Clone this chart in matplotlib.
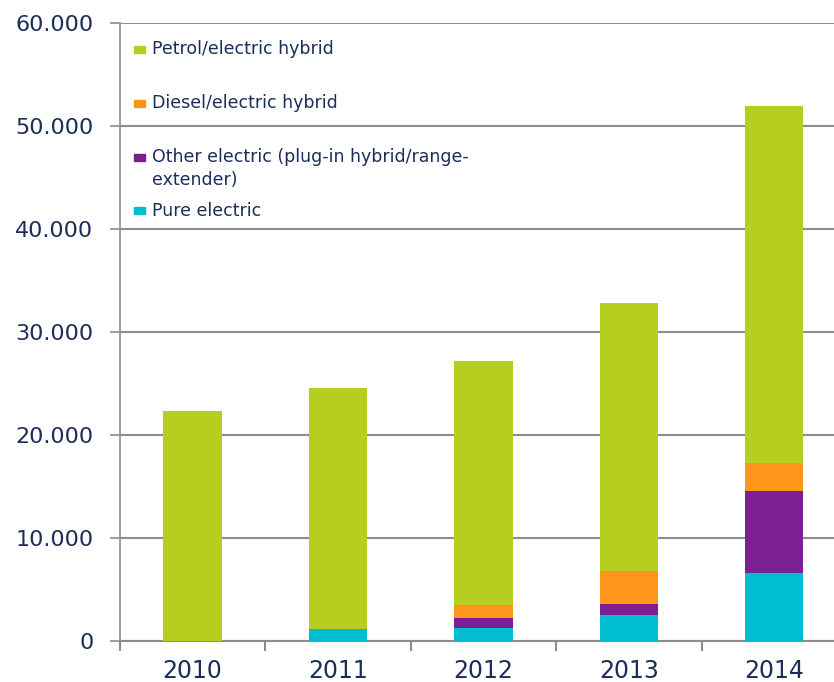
import matplotlib
matplotlib.use("Agg")
import matplotlib.pyplot as plt
from matplotlib.patches import Rectangle
import numpy as np

years = ["2010", "2011", "2012", "2013", "2014"]
pure_electric = [0, 1170, 1270, 2530, 6620]
other_electric = [0, 0, 970, 1070, 7980]
diesel_hybrid = [0, 0, 1260, 3150, 2660]
petrol_hybrid = [22300, 23370, 23670, 26050, 34640]

series_names = ["Pure electric",
                "Other electric (plug-in hybrid/range-\nextender)",
                "Diesel/electric hybrid",
                "Petrol/electric hybrid"]
colors = ["#00BDD0", "#7B2093", "#FF961C", "#B5CE1F"]
yticks = [0, 10000, 20000, 30000, 40000, 50000, 60000]
ytick_labels = ["0", "10.000", "20.000", "30.000", "40.000", "50.000", "60.000"]

txt = "#1c2d5a"
grid = "#8c8c8c"
plt.rcParams['font.family'] = ['DejaVu Sans']

W, H = 834, 682
fig = plt.figure(figsize=(W / 100, H / 100), dpi=100)
ax = fig.add_axes([119.8 / W, 1 - 641 / H, 1 - 119.8 / W, (641 - 23) / H])

x = np.arange(len(years))
bottom = np.zeros(len(years))
data = [pure_electric, other_electric, diesel_hybrid, petrol_hybrid]
for vals, c in zip(data, colors):
    ax.bar(x, vals, width=0.40, bottom=bottom, color=c, zorder=3)
    bottom += np.array(vals)

ax.set_yticks(yticks)
ax.set_yticklabels(ytick_labels, fontsize=16, color=txt)
ax.yaxis.grid(True, color=grid, linewidth=1.5, zorder=0)

ax.set_xticks(np.arange(-0.5, 5, 1.0))
ax.set_xticklabels([])
ax.set_xticks(x, minor=True)
ax.set_xticklabels(years, minor=True, fontsize=17, color=txt)
ax.tick_params(axis='x', which='major', length=7, width=1.5, color=grid, direction='out')
ax.tick_params(axis='x', which='minor', length=0, pad=13)
ax.tick_params(axis='y', length=7, width=1.2, color=grid, direction='out', pad=12)

ax.set_ylim(0, 60000)
ax.set_xlim(-0.5, 4.41)

for s in ["top", "right"]:
    ax.spines[s].set_visible(False)
ax.spines["left"].set_color(grid)
ax.spines["left"].set_linewidth(1.2)
ax.spines["bottom"].set_color(grid)
ax.spines["bottom"].set_linewidth(1.5)

# legend (manual, matching layout)
entries = [(3, 49, 49), (2, 103, 103), (1, 157, 168.5), (0, 211, 211)]
for idx, my, ty in entries:
    fig.patches.append(Rectangle((134 / W, 1 - (my + 3.5) / H), 11 / W, 7 / H,
                                 transform=fig.transFigure, color=colors[idx],
                                 zorder=5))
    fig.text(152 / W, 1 - ty / H, series_names[idx], fontsize=12.5, color=txt,
             va='center', ha='left', linespacing=1.35)

fig.savefig("out.png", dpi=100)
